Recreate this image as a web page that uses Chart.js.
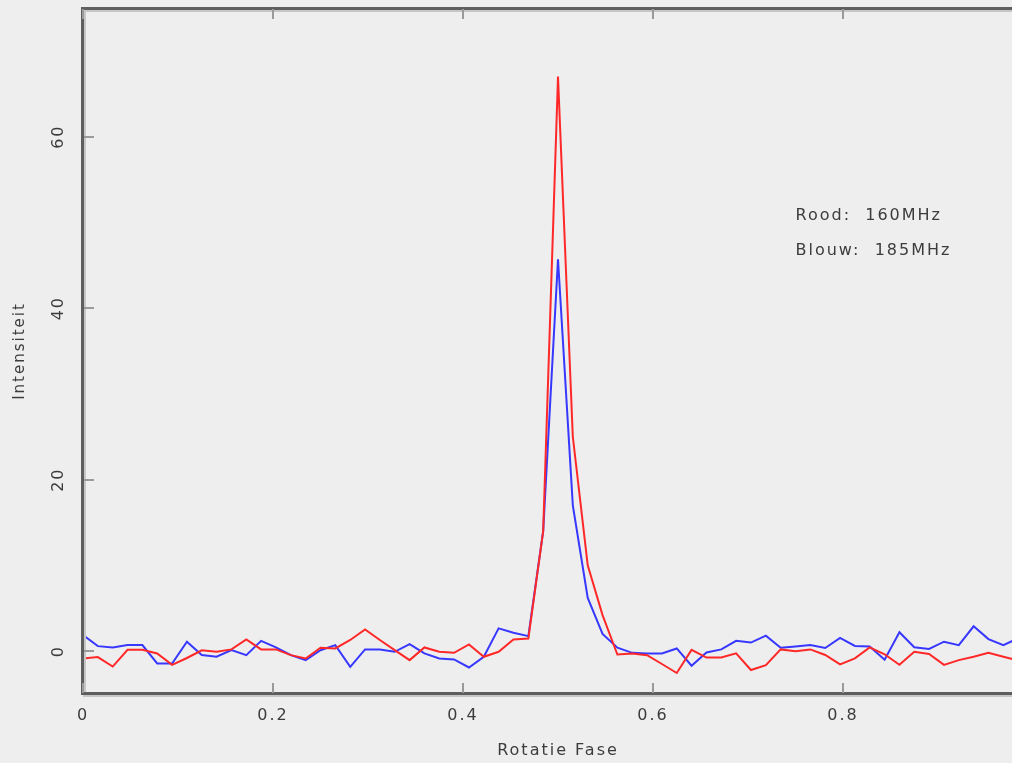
<!DOCTYPE html>
<html>
<head>
<meta charset="utf-8">
<script src="https://cdn.jsdelivr.net/npm/chart.js@4.4.0/dist/chart.umd.min.js"></script>
<style>
  html, body { margin: 0; padding: 0; background: #eeeeee; overflow: hidden; }
  #wrap { width: 1040px; height: 763px; }
  #pulse { filter: blur(0.5px); }
</style>
</head>
<body>
<div id="wrap"><canvas id="pulse" width="1040" height="763"></canvas></div>
<script>
// rotation phase bins (64 per period)
const phase = [
  0, 0.0156, 0.0313, 0.0469, 0.0625, 0.0781, 0.0938, 0.1094,
  0.125, 0.1406, 0.1563, 0.1719, 0.1875, 0.2031, 0.2188, 0.2344,
  0.25, 0.2656, 0.2813, 0.2969, 0.3125, 0.3281, 0.3438, 0.3594,
  0.375, 0.3906, 0.4063, 0.4219, 0.4375, 0.4531, 0.4688, 0.4844,
  0.5, 0.5156, 0.5313, 0.5469, 0.5625, 0.5781, 0.5938, 0.6094,
  0.625, 0.6406, 0.6563, 0.6719, 0.6875, 0.7031, 0.7188, 0.7344,
  0.75, 0.7656, 0.7813, 0.7969, 0.8125, 0.8281, 0.8438, 0.8594,
  0.875, 0.8906, 0.9063, 0.9219, 0.9375, 0.9531, 0.9688, 0.9844
];

// Rood: 160MHz
const rood160 = [
  -0.86, -0.7, -1.8, 0.15, 0.15, -0.27, -1.6, -0.8,
  0.1, -0.08, 0.2, 1.36, 0.2, 0.2, -0.47, -0.86,
  0.4, 0.31, 1.3, 2.53, 1.3, 0.12, -1.05, 0.43,
  -0.08, -0.2, 0.78, -0.66, -0.08, 1.36, 1.48, 14,
  67, 25, 10, 4.2, -0.4, -0.27, -0.47, -1.5,
  -2.55, 0.15, -0.75, -0.75, -0.25, -2.2, -1.64, 0.2,
  0.0, 0.2, -0.45, -1.55, -0.85, 0.43, -0.37, -1.6,
  -0.08, -0.33, -1.6, -1.05, -0.66, -0.2, -0.66, -1.1
];

// Blouw: 185MHz
const blouw185 = [
  1.87, 0.58, 0.43, 0.7, 0.7, -1.44, -1.44, 1.09,
  -0.45, -0.66, 0.12, -0.47, 1.2, 0.43, -0.47, -1.05,
  0.1, 0.7, -1.83, 0.2, 0.2, -0.08, 0.82, -0.27,
  -0.86, -0.97, -1.91, -0.66, 2.65, 2.14, 1.75, 14,
  45.7, 17, 6.2, 2.0, 0.4, -0.2, -0.27, -0.27,
  0.31, -1.7, -0.15, 0.2, 1.2, 1.0, 1.8, 0.4,
  0.55, 0.7, 0.37, 1.55, 0.6, 0.55, -1.0, 2.2,
  0.45, 0.25, 1.1, 0.7, 2.9, 1.4, 0.7, 1.5
];

const xTickValues = [0, 0.1, 0.2, 0.3, 0.4, 0.5, 0.6, 0.7, 0.8, 0.9, 1];
const xTickLabels = [0, 0.2, 0.4, 0.6, 0.8, 1];
const yTickValues = [0, 10, 20, 30, 40, 50, 60, 70];
const yTickLabels = [0, 20, 40, 60];
const legendLines = ["Rood:  160MHz", "Blouw:  185MHz"];

const font = "'DejaVu Sans', sans-serif";
const textColor = "#3c3c3c";

// letter spacing, to get the wide look of the original labels
const spacing = {
  id: "spacing",
  beforeUpdate(chart) { chart.ctx.letterSpacing = "2px"; },
  beforeDraw(chart) { chart.ctx.letterSpacing = "2px"; }
};

// frame with inward ticks + the two text lines
const frame = {
  id: "frame",
  afterDatasetsDraw(chart) {
    const { ctx, chartArea: a, scales: { x, y } } = chart;
    ctx.save();

    // axis lines
    ctx.fillStyle = "#c6c6c6";
    ctx.fillRect(a.left + 1, a.top, 2, a.bottom - a.top);
    ctx.fillRect(a.left, a.top + 2, a.right - a.left, 2);
    ctx.fillRect(a.left, a.bottom + 1, a.right - a.left, 2);
    ctx.fillStyle = "#5e5e5e";
    ctx.fillRect(a.left - 2, a.top - 1, 3, a.bottom - a.top + 2);
    ctx.fillRect(a.left - 2, a.top - 1, a.right - a.left + 4, 3);
    ctx.fillRect(a.left - 2, a.bottom - 2, a.right - a.left + 4, 3);
    ctx.fillRect(a.right - 1, a.top - 1, 3, a.bottom - a.top + 2);

    // ticks
    x.ticks.forEach(t => {
      const px = Math.round(x.getPixelForValue(t.value));
      const major = xTickLabels.includes(t.value);
      const len = major ? 10 : 5;
      ctx.fillStyle = major ? "#9a9a9a" : "#444";
      ctx.fillRect(px - 1, a.bottom - 1 - len, 2, len);
      ctx.fillRect(px - 1, a.top + 1, 2, len);
    });
    y.ticks.forEach(t => {
      const py = Math.round(y.getPixelForValue(t.value));
      const major = yTickLabels.includes(t.value);
      const len = major ? 10 : 5;
      ctx.fillStyle = major ? "#9a9a9a" : "#444";
      ctx.fillRect(a.left + 1, py - 1, len, 2);
      ctx.fillRect(a.right - 1 - len, py - 1, len, 2);
    });

    // text lines in the plot
    ctx.font = "16px " + font;
    ctx.fillStyle = textColor;
    ctx.textAlign = "left";
    ctx.textBaseline = "middle";
    ctx.fillText(legendLines[0], x.getPixelForValue(0.75), y.getPixelForValue(50.8));
    ctx.fillText(legendLines[1], x.getPixelForValue(0.75), y.getPixelForValue(46.7));
    ctx.restore();
  }
};

new Chart(document.getElementById("pulse").getContext("2d"), {
  type: "line",
  data: {
    datasets: [
      {
        label: "Rood",
        data: phase.map((p, i) => ({ x: p, y: rood160[i] })),
        borderColor: "rgb(255,40,40)",
        borderWidth: 2
      },
      {
        label: "Blouw",
        data: phase.map((p, i) => ({ x: p, y: blouw185[i] })),
        borderColor: "rgb(55,55,255)",
        borderWidth: 2
      }
    ]
  },
  options: {
    responsive: false,
    devicePixelRatio: 1,
    animation: false,
    elements: { point: { radius: 0 }, line: { tension: 0 } },
    layout: { padding: { top: 8, right: 7, left: 0, bottom: 0 } },
    plugins: { legend: { display: false }, tooltip: { enabled: false } },
    scales: {
      x: {
        type: "linear",
        min: 0,
        max: 1,
        grid: { display: false, drawTicks: false },
        border: { display: false },
        afterBuildTicks: s => { s.ticks = xTickValues.map(v => ({ value: v })); },
        afterFit: s => { s.height = 69; s.paddingLeft = 0; s.paddingRight = 0; },
        ticks: {
          padding: 12,
          maxRotation: 0,
          color: textColor,
          font: { family: font, size: 16 },
          callback: v => xTickLabels.includes(v) ? String(v) : null
        },
        title: {
          display: true,
          text: "Rotatie Fase",
          color: textColor,
          font: { family: font, size: 16 },
          padding: { top: 0, bottom: 3 }
        }
      },
      y: {
        type: "linear",
        min: -5,
        max: 75,
        grid: { display: false, drawTicks: false },
        border: { display: false },
        afterBuildTicks: s => { s.ticks = yTickValues.map(v => ({ value: v })); },
        afterFit: s => { s.width = 83; s.paddingTop = 0; s.paddingBottom = 0; },
        ticks: {
          padding: 12,
          minRotation: 90,
          maxRotation: 90,
          crossAlign: "center",
          color: textColor,
          font: { family: font, size: 16 },
          callback: v => yTickLabels.includes(v) ? String(v) : null
        },
        title: {
          display: true,
          text: "Intensiteit",
          color: textColor,
          font: { family: font, size: 15 },
          padding: { top: 11, bottom: 0 }
        }
      }
    }
  },
  plugins: [spacing, frame]
});
</script>
</body>
</html>
